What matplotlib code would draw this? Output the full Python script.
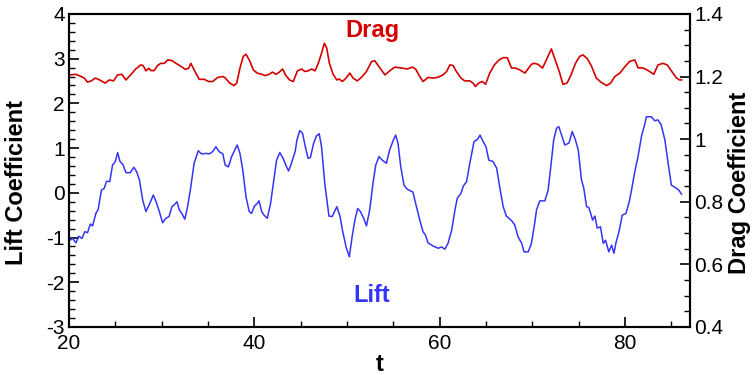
import numpy as np
import matplotlib.pyplot as plt
from matplotlib.ticker import MultipleLocator, FormatStrFormatter

# lift coefficient
t_lift = [20.1, 20.4, 20.75, 21.05, 21.4, 21.7, 22.0, 22.3, 22.55, 22.9, 23.15, 23.5, 23.8, 24.05,
          24.4, 24.7, 25.0, 25.25, 25.5, 25.8, 26.15, 26.6, 27.0, 27.3, 27.6, 27.95, 28.3, 28.65,
          29.1, 29.4, 29.75, 30.1, 30.45, 30.8, 31.1, 31.35, 31.65, 31.9, 32.2, 32.5, 32.8, 33.15,
          33.5, 33.95, 34.3, 34.8, 35.15, 35.5, 35.85, 36.2, 36.6, 36.85, 37.2, 37.55, 37.9, 38.15,
          38.45, 38.75, 39.1, 39.45, 39.7, 40.0, 40.3, 40.5, 40.8, 41.05, 41.4, 41.75, 42.1, 42.4,
          42.75, 43.1, 43.5, 43.7, 44.0, 44.4, 44.6, 44.9, 45.2, 45.5, 45.8, 46.05, 46.4, 46.7,
          47.0, 47.25, 47.6, 48.05, 48.4, 48.9, 49.25, 49.5, 49.9, 50.25, 50.55, 50.85, 51.15,
          51.45, 51.8, 52.1, 52.45, 52.8, 53.1, 53.45, 53.8, 54.25, 54.6, 55.0, 55.25, 55.5, 55.8,
          56.15, 56.5, 57.1, 57.45, 57.85, 58.2, 58.45, 58.75, 59.3, 59.85, 60.2, 60.55, 60.9,
          61.3, 61.65, 61.9, 62.3, 62.55, 62.9, 63.25, 63.7, 64.1, 64.35, 64.7, 65.0, 65.3, 65.75,
          66.15, 66.5, 66.85, 67.2, 67.75, 68.1, 68.45, 68.85, 69.1, 69.55, 69.9, 70.25, 70.45,
          70.8, 71.35, 71.7, 71.95, 72.3, 72.6, 72.85, 73.15, 73.5, 73.95, 74.3, 74.65, 74.95,
          75.3, 75.55, 75.85, 76.1, 76.5, 76.75, 77.0, 77.35, 77.65, 77.9, 78.25, 78.55, 78.8,
          79.05, 79.35, 79.7, 80.1, 80.45, 80.7, 81.05, 81.4, 81.8, 82.15, 82.3, 82.85, 83.2,
          83.55, 83.9, 84.3, 84.65, 85.0, 85.25, 85.55, 85.8, 86.1]
lift = [-1.06, -1.02, -1.12, -0.97, -1.02, -0.87, -0.89, -0.70, -0.74, -0.46, -0.37, 0.06, 0.10, 0.26,
        0.25, 0.62, 0.70, 0.90, 0.70, 0.64, 0.45, 0.45, 0.57, 0.47, 0.29, -0.16, -0.42, -0.27,
        -0.05, -0.20, -0.42, -0.67, -0.57, -0.53, -0.31, -0.27, -0.20, -0.38, -0.47, -0.59, -0.31, 0.14,
        0.66, 0.94, 0.87, 0.88, 0.87, 0.92, 1.03, 0.92, 0.87, 0.62, 0.58, 0.81, 0.96, 1.07,
        0.88, 0.51, -0.09, -0.42, -0.46, -0.30, -0.24, -0.18, -0.42, -0.50, -0.57, -0.24, 0.29, 0.73,
        0.90, 0.77, 0.57, 0.49, 0.66, 0.92, 1.18, 1.39, 1.33, 1.03, 0.77, 0.79, 1.11, 1.27,
        1.32, 1.03, 0.21, -0.52, -0.53, -0.31, -0.53, -0.83, -1.21, -1.43, -0.98, -0.61, -0.35,
        -0.42, -0.57, -0.74, -0.38, 0.21, 0.62, 0.81, 0.73, 0.66, 0.96, 1.18, 1.29, 1.11, 0.58,
        0.17, 0.08, 0.02, -0.27, -0.61, -0.87, -0.94, -1.12, -1.19, -1.24, -1.21, -1.26, -1.13,
        -0.83, -0.38, -0.12, -0.01, 0.15, 0.25, 0.66, 1.14, 1.20, 1.29, 1.14, 1.03, 0.73, 0.70,
        0.55, 0.10, -0.31, -0.52, -0.62, -0.72, -0.98, -1.13, -1.32, -1.32, -1.13, -0.68, -0.38,
        -0.18, -0.18, 0.06, 0.51, 1.18, 1.44, 1.48, 1.29, 1.07, 1.11, 1.37, 1.18, 0.96,
        0.29, 0.10, -0.31, -0.33, -0.61, -0.52, -0.79, -0.76, -1.13, -1.06, -1.32, -1.17, -1.35,
        -1.09, -0.87, -0.50, -0.46, -0.20, 0.06, 0.47, 0.81, 1.29, 1.55, 1.70, 1.70, 1.61,
        1.63, 1.52, 1.18, 0.66, 0.17, 0.14, 0.10, 0.06, -0.03]

# drag coefficient
t_drag = [20.1, 20.75, 21.3, 21.65, 22.0, 22.4, 22.85, 23.3, 23.9, 24.35, 24.8, 25.25, 25.7, 26.15,
          26.7, 27.2, 27.75, 28.0, 28.3, 28.6, 28.85, 29.2, 29.55, 29.9, 30.3, 30.65, 31.1, 31.55,
          32.1, 32.55, 32.9, 33.15, 33.5, 34.05, 34.6, 35.05, 35.5, 36.05, 36.6, 36.8, 37.35, 37.8,
          38.1, 38.45, 38.8, 39.1, 39.45, 39.9, 40.3, 40.8, 41.15, 41.6, 41.95, 42.35, 42.7, 43.05,
          43.4, 43.8, 44.2, 44.65, 45.1, 45.45, 45.8, 46.2, 46.55, 46.9, 47.25, 47.55, 47.8, 48.1,
          48.5, 48.9, 49.15, 49.5, 49.9, 50.3, 50.65, 51.1, 51.55, 52.1, 52.65, 53.0, 53.55, 54.1,
          54.6, 55.15, 55.9, 56.5, 57.05, 57.4, 57.75, 58.2, 58.75, 59.3, 59.85, 60.35, 60.75,
          61.1, 61.45, 61.8, 62.3, 62.7, 63.25, 63.6, 63.85, 64.2, 64.6, 64.95, 65.4, 65.9, 66.4,
          66.85, 67.3, 67.75, 68.2, 68.65, 69.2, 69.6, 69.9, 70.2, 70.6, 71.1, 71.5, 72.05, 72.4,
          72.9, 73.3, 73.75, 74.2, 74.65, 75.1, 75.45, 75.9, 76.35, 76.9, 77.45, 78.0, 78.45,
          78.9, 79.45, 80.0, 80.5, 81.05, 81.4, 81.95, 82.5, 83.1, 83.55, 84.1, 84.55, 85.0,
          85.55, 85.9, 86.1]
drag = [1.205, 1.207, 1.200, 1.195, 1.182, 1.186, 1.195, 1.189, 1.179, 1.189, 1.186, 1.205, 1.207, 1.189,
        1.207, 1.224, 1.237, 1.235, 1.218, 1.226, 1.219, 1.219, 1.235, 1.242, 1.242, 1.253, 1.251, 1.242,
        1.232, 1.223, 1.226, 1.242, 1.221, 1.191, 1.191, 1.184, 1.184, 1.197, 1.200, 1.197, 1.179, 1.171,
        1.179, 1.227, 1.264, 1.271, 1.253, 1.221, 1.211, 1.207, 1.203, 1.207, 1.214, 1.207, 1.214, 1.224,
        1.203, 1.189, 1.184, 1.218, 1.224, 1.216, 1.218, 1.224, 1.218, 1.242, 1.274, 1.306, 1.292, 1.242,
        1.207, 1.189, 1.192, 1.184, 1.195, 1.211, 1.195, 1.186, 1.197, 1.216, 1.248, 1.250, 1.227, 1.205,
        1.218, 1.230, 1.227, 1.224, 1.230, 1.224, 1.205, 1.184, 1.197, 1.195, 1.198, 1.205, 1.216,
        1.237, 1.235, 1.216, 1.195, 1.186, 1.186, 1.179, 1.168, 1.179, 1.184, 1.175, 1.211, 1.237, 1.253,
        1.260, 1.260, 1.227, 1.227, 1.221, 1.211, 1.227, 1.239, 1.242, 1.239, 1.227, 1.253, 1.288, 1.258,
        1.216, 1.175, 1.179, 1.207, 1.242, 1.264, 1.269, 1.258, 1.235, 1.195, 1.181, 1.171, 1.179,
        1.200, 1.211, 1.232, 1.248, 1.253, 1.228, 1.227, 1.219, 1.207, 1.237, 1.242, 1.237, 1.218,
        1.195, 1.189, 1.189]

plt.rcParams['font.family'] = ['Liberation Sans', 'DejaVu Sans']
plt.rcParams['axes.unicode_minus'] = False

fig = plt.figure(figsize=(7.54, 3.75), dpi=100)
ax = fig.add_axes([0.0915, 0.128, 0.8235, 0.835])
ax2 = ax.twinx()

ax.plot(t_lift, lift, color='#3535f5', lw=1.1)
ax2.plot(t_drag, drag, color='#d40000', lw=1.2)

ax.set_xlim(20, 87)
ax.set_ylim(-3, 4)
ax2.set_ylim(0.4, 1.4)

ax.xaxis.set_major_locator(MultipleLocator(20))
ax.xaxis.set_minor_locator(MultipleLocator(5))
ax.yaxis.set_major_locator(MultipleLocator(1))
ax.yaxis.set_minor_locator(MultipleLocator(0.2))
ax2.yaxis.set_major_locator(MultipleLocator(0.2))
ax2.yaxis.set_minor_locator(MultipleLocator(0.05))
ax2.yaxis.set_major_formatter(FormatStrFormatter('%g'))

for a in (ax, ax2):
    for s in a.spines.values():
        s.set_linewidth(1.5)
ax.tick_params(axis='both', which='major', direction='in', length=7, width=1.2,
               labelsize=15, top=False, right=False, pad=3)
ax.tick_params(axis='x', which='major', pad=5)
ax.tick_params(axis='both', which='minor', direction='in', length=4, width=1,
               top=False, right=False)
ax2.tick_params(axis='y', which='major', direction='in', length=7, width=1.2, labelsize=15, pad=3)
ax2.tick_params(axis='y', which='minor', direction='in', length=4, width=1)

ax.set_xlabel('t', fontsize=17, fontweight='bold', labelpad=0)
ax.set_ylabel('Lift Coefficient', fontsize=17, fontweight='bold')
ax2.set_ylabel('Drag Coefficient', fontsize=17, fontweight='bold')
ax.yaxis.set_label_coords(-0.066, 0.46)
ax2.yaxis.set_label_coords(1.062, 0.46)

ax.text(0.488, 0.947, 'Drag', transform=ax.transAxes, color='#d40000',
        fontsize=17, fontweight='bold', ha='center', va='center')
ax.text(0.487, 0.1, 'Lift', transform=ax.transAxes, color='#3535f5',
        fontsize=17, fontweight='bold', ha='center', va='center')

fig.savefig('out.png', dpi=100)
